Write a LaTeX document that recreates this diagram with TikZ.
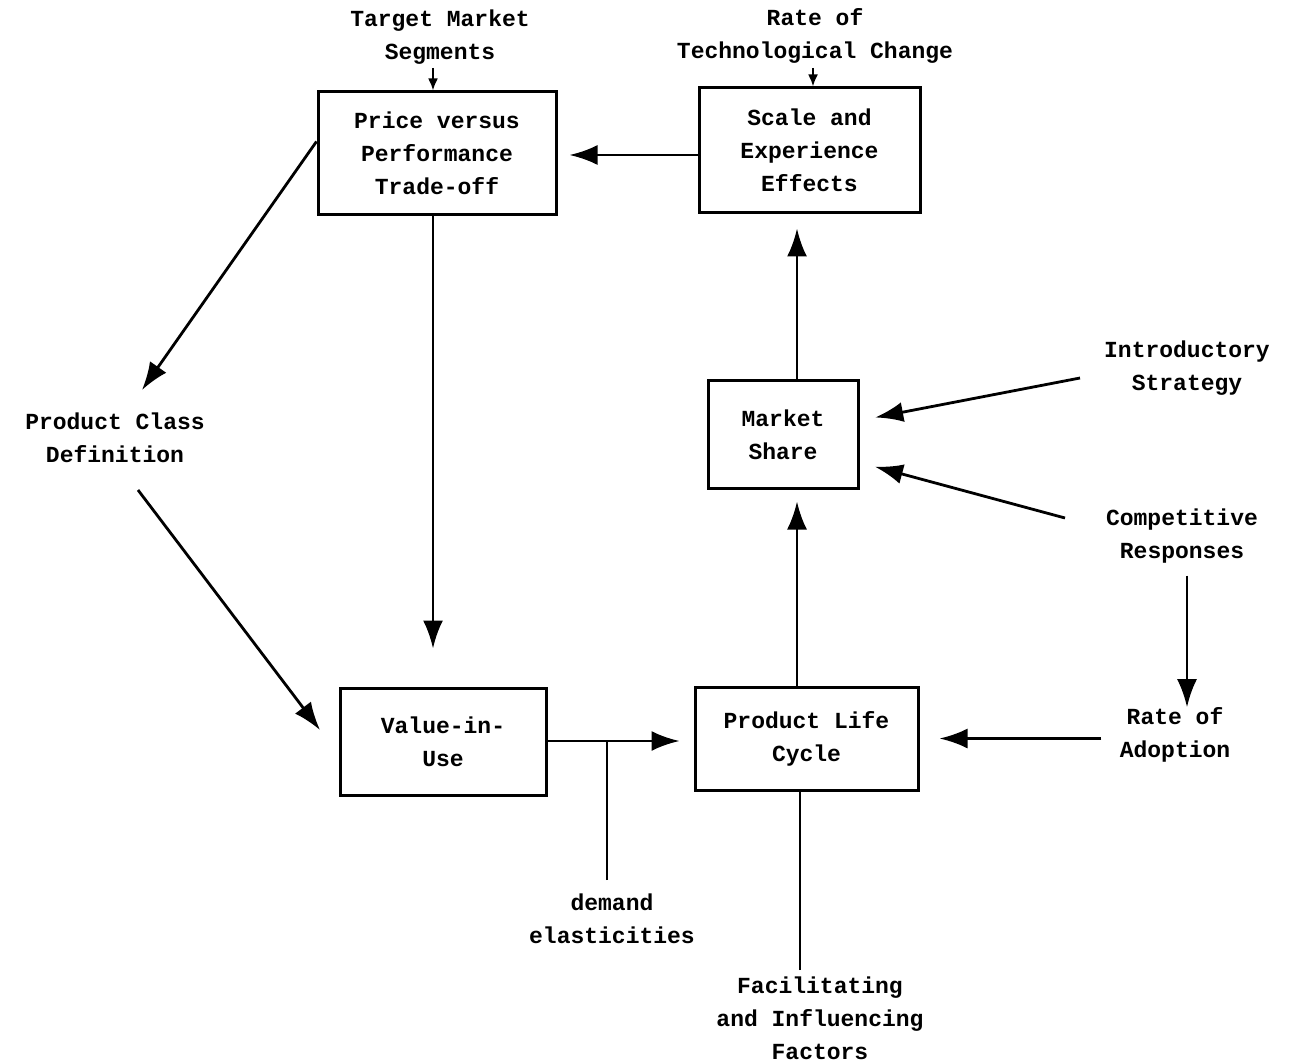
\documentclass[tikz,border=0pt]{standalone}
\usepackage{fontspec}
\setmainfont{Liberation Mono}
\usetikzlibrary{arrows.meta}
\begin{document}
\begin{tikzpicture}[x=0.5pt,y=-0.5pt,
  lbl/.style={align=center, font=\bfseries\fontsize{11.5}{16.5}\selectfont, inner sep=0pt},
  box/.style={lbl, draw, line width=1.5pt},
  conn/.style={line width=1.4pt, -{Latex[length=14pt,width=10pt]}},
  tick/.style={line width=1.1pt, -{Latex[length=6pt,width=5pt]}},
  plain/.style={line width=1.4pt}]
\useasboundingbox (0,0) rectangle (1291,1064);

% boxes
\node[box, minimum width=119pt, minimum height=61.5pt] (price) at (437,153.5) {Price versus\\Performance\\Trade-off};
\node[box, minimum width=110.5pt, minimum height=62.5pt] (scale) at (809.5,150.5) {Scale and\\Experience\\Effects};
\node[box, minimum width=75pt, minimum height=53.5pt] (share) at (783,434.5) {Market\\Share};
\node[box, minimum width=103pt, minimum height=53.5pt] (viu) at (443,741.5) {Value-in-\\Use};
\node[box, minimum width=111.5pt, minimum height=51.5pt] (plc) at (806.5,738.5) {Product Life\\Cycle};

% free labels
\node[lbl] (tms) at (440,37) {Target Market\\Segments};
\node[lbl] (rtc) at (815,36) {Rate of\\Technological Change};
\node[lbl] (pcd) at (115,438) {Product Class\\Definition};
\node[lbl] (intro) at (1187,368) {Introductory\\Strategy};
\node[lbl] (comp) at (1182,536) {Competitive\\Responses};
\node[lbl] (adopt) at (1175,735) {Rate of\\Adoption};
\node[lbl] (dem) at (612,919) {demand\\elasticities};
\node[lbl] (fac) at (820,1018) {Facilitating\\and Influencing\\Factors};

% helper coordinates
\coordinate (x433) at (433,0);
\coordinate (x797) at (797,0);
\coordinate (x800) at (800,0);
\coordinate (x1187) at (1187,0);
\coordinate (y155) at (0,155);
\coordinate (y741) at (0,741);
\coordinate (tmsfoot) at (433,68);
\coordinate (rtcfoot) at (813,68);
\coordinate (pcdin) at (142,390);
\coordinate (pcdout) at (138,490);
\coordinate (viuin) at (320,730);
\coordinate (junc) at (607,741);
\coordinate (demtop) at (607,880);
\coordinate (intout) at (1080,378);
\coordinate (compout) at (1065,518);

% small input ticks
\draw[tick] (tmsfoot) -- (price.north -| tmsfoot);
\draw[tick] (rtcfoot) -- (scale.north -| rtcfoot);

% main flow
\draw[conn, shorten >=6pt] (scale.west |- y155) -- (price.east |- y155);
\draw[conn, shorten >=7pt] (share.north -| x797) -- (scale.south -| x797);
\draw[conn, shorten >=19pt] (price.south -| x433) -- (viu.north -| x433);
\draw[conn] ([yshift=6pt]price.west) -- (pcdin);
\draw[conn] (pcdout) -- (viuin);
\draw[conn, shorten >=7pt] (viu.east |- y741) -- (plc.west |- y741);
\draw[plain] (demtop) -- (junc);
\draw[conn, shorten >=6pt] (plc.north -| x797) -- (share.south -| x797);
\draw[conn, shorten >=8pt] (intout) -- ([yshift=7pt]share.east);
\draw[conn, shorten >=8pt] (compout) -- ([yshift=-14pt]share.east);
\draw[conn, shorten <=6pt] (comp.south -| x1187) -- (adopt.north -| x1187);
\draw[conn, shorten <=9pt, shorten >=10pt] (adopt.west |- plc.east) -- (plc.east);
\draw[plain, shorten <=3pt] (fac.north -| x800) -- (plc.south -| x800);
\end{tikzpicture}
\end{document}
